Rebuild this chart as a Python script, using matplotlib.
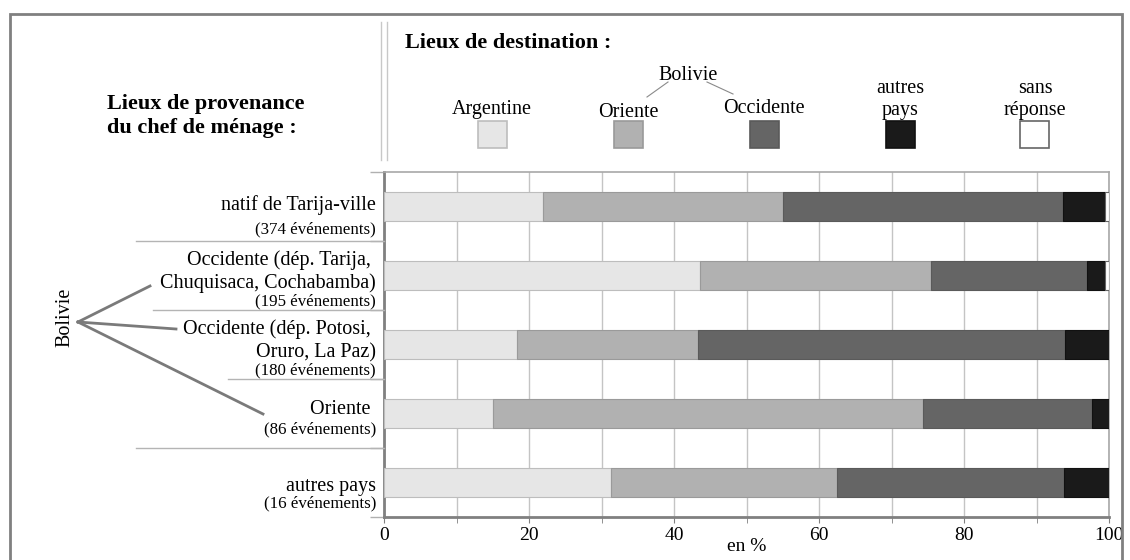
import matplotlib
matplotlib.use("Agg")
from matplotlib import pyplot as plt
from matplotlib.patches import Rectangle
from matplotlib.lines import Line2D
from matplotlib import transforms
import numpy as np

plt.rcParams['font.family'] = ['Liberation Serif', 'DejaVu Serif']

# donnees (en %) par lieu de provenance du chef de menage
provenance = ["natif de Tarija-ville",
              "Occidente (dép. Tarija, \nChuquisaca, Cochabamba)",
              "Occidente (dép. Potosi, \nOruro, La Paz)",
              "Oriente ",
              "autres pays"]
evenements = ["(374 événements)", "(195 événements)", "(180 événements)",
              "(86 événements)", "(16 événements)"]

destinations = ["Argentine", "Oriente", "Occidente", "autres\npays", "sans\nréponse"]
argentine = [21.9, 43.6, 18.3, 15.1, 31.25]
oriente = [33.2, 31.8, 25.0, 59.3, 31.25]
occidente = [38.5, 21.5, 50.6, 23.3, 31.25]
autres_pays = [5.9, 2.6, 6.1, 2.3, 6.25]
sans_reponse = [0.5, 0.5, 0.0, 0.0, 0.0]

couleurs = ["#e6e6e6", "#b1b1b1", "#656565", "#1a1a1a", "#ffffff"]
bords = ["#bdbdbd", "#9a9a9a", "#5a5a5a", "#111111", "#666666"]

W, H = 1130, 560


def px(x, y):
    # pixels -> coordonnees figure
    return x / W, 1 - y / H


fig = plt.figure(figsize=(W / 100, H / 100), dpi=100)
ax = fig.add_axes([384 / W, 1 - 517 / H, (1109 - 384) / W, (517 - 172) / H])

series = [argentine, oriente, occidente, autres_pays, sans_reponse]
ypos = np.arange(len(provenance))
gauche = np.zeros(len(provenance))
for i, s in enumerate(series):
    ax.barh(ypos, s, left=gauche, height=0.41, color=couleurs[i],
            edgecolor=bords[i], linewidth=0.8, zorder=3)
    gauche = gauche + np.array(s)

ax.set_xlim(0, 100)
ax.set_ylim(4.5, -0.5)
ax.set_xticks(np.arange(0, 101, 20))
ax.set_xticks(np.arange(10, 100, 20), minor=True)
ax.set_yticks(np.arange(-0.5, 5, 1))
ax.set_yticklabels([])
ax.tick_params(axis='x', which='both', direction='out', length=4, color='#808080',
               labelsize=14, pad=3)
ax.tick_params(axis='y', direction='out', length=10, color='#b0b0b0', width=1)
ax.grid(axis='x', which='both', color='#c4c4c4', linewidth=1, zorder=0)
ax.set_axisbelow(True)
ax.set_xlabel("en %", fontsize=14, labelpad=-4)

for cote in ['left', 'bottom']:
    ax.spines[cote].set_color('#808080')
    ax.spines[cote].set_linewidth(2)
for cote in ['top', 'right']:
    ax.spines[cote].set_color('#a8a8a8')
    ax.spines[cote].set_linewidth(1.2)

# etiquettes des lignes
base_principale = [[210], [265, 288], [334, 357], [414], [491]]
base_petite = [233, 305, 374, 433, 507]
for i, lab in enumerate(provenance):
    for j, ligne in enumerate(lab.split("\n")):
        x, y = px(376, base_principale[i][j])
        fig.text(x, y, ligne, ha='right', va='baseline', fontsize=14.5)
    x, y = px(376, base_petite[i])
    fig.text(x, y, evenements[i], ha='right', va='baseline', fontsize=12.2)

# separateurs entre les lignes
trans = transforms.blended_transform_factory(fig.transFigure, ax.transData)
debut_sep = [136, 153, 228, 136]
for k, yb in enumerate([0.5, 1.5, 2.5, 3.5]):
    fig.add_artist(Line2D([debut_sep[k] / W, 384 / W], [yb, yb], transform=trans,
                          color='#b4b4b4', linewidth=1))

# accolade Bolivie
x, y = px(65, 317)
fig.text(x, y, "Bolivie", rotation=90, ha='center', va='center', fontsize=14.5)
for xe, ye in [(150, 286), (176, 329), (263, 414)]:
    x0, y0 = px(78, 322)
    x1, y1 = px(xe, ye)
    fig.add_artist(Line2D([x0, x1], [y0, y1], color='#7a7a7a', linewidth=2))

# titres
x, y = px(107, 109)
fig.text(x, y, "Lieux de provenance", fontsize=16, fontweight='bold', va='baseline')
x, y = px(107, 133)
fig.text(x, y, "du chef de ménage :", fontsize=16, fontweight='bold', va='baseline')
x, y = px(405, 48)
fig.text(x, y, "Lieux de destination :", fontsize=16, fontweight='bold', va='baseline')

# double trait vertical
for xv in [381, 387]:
    fig.add_artist(Line2D([xv / W, xv / W], [1 - 22 / H, 1 - 160 / H],
                          color='#c8c8c8', linewidth=1))

# legende
centres = [492, 628, 764, 900, 1035]
bases = [[114], [117], [113], [93, 115], [93, 115]]
for i, nom in enumerate(destinations):
    for j, ligne in enumerate(nom.split("\n")):
        x, y = px(centres[i], bases[i][j])
        fig.text(x, y, ligne, ha='center', va='baseline', fontsize=14.5)
    x, y = px(centres[i] - 14.5, 148)
    fig.add_artist(Rectangle((x, y), 29 / W, 27 / H, transform=fig.transFigure,
                             facecolor=couleurs[i], edgecolor=bords[i], linewidth=1.2))

x, y = px(688, 80)
fig.text(x, y, "Bolivie", ha='center', va='baseline', fontsize=14.5)
for (xa, ya), (xb, yb) in [((668, 82), (647, 97)), ((707, 82), (733, 94))]:
    x0, y0 = px(xa, ya)
    x1, y1 = px(xb, yb)
    fig.add_artist(Line2D([x0, x1], [y0, y1], color='#8a8a8a', linewidth=0.8))

# cadre
x, y = px(10, 580)
fig.add_artist(Rectangle((x, y), (1122 - 10) / W, (580 - 14) / H, transform=fig.transFigure,
                         facecolor='none', edgecolor='#808080', linewidth=2, clip_on=False))

fig.savefig("out.png", dpi=100)
